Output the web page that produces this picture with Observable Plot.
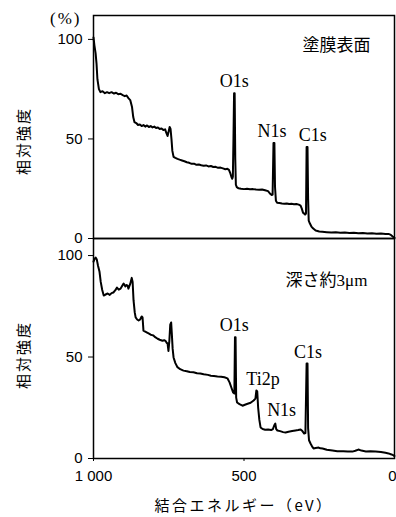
<!DOCTYPE html>
<html>
<head>
<meta charset="utf-8">
<script src="https://cdn.jsdelivr.net/npm/d3@7"></script>
<script src="https://cdn.jsdelivr.net/npm/@observablehq/plot@0.6"></script>
<style>
  body { margin: 0; background: #fff; }
  #chart { position: relative; width: 396px; height: 517px; overflow: hidden; background: #fff; }
  #chart svg { position: absolute; left: 0; overflow: visible; background: transparent; }
  .lbl { position: absolute; white-space: nowrap; color: #000; line-height: 1; }
  .ylab { font-family: "Noto Sans CJK JP", sans-serif; font-size: 15px; letter-spacing: 2px;
          transform: translate(-50%, -50%) rotate(-90deg); }
</style>
</head>
<body>
<div id="chart"></div>
<script>
// Surface spectrum (塗膜表面): [binding energy eV, relative intensity %]
const surfaceSpectrum = [
  [1000,101],[997,97],[993,93],[990,88],[987,80],[982,75],[977,73.5],[970,74],[962,73],[955,73.5],
  [948,73],[940,73.5],[932,72.8],[925,73.2],[918,72.5],[910,72.7],[903,72],[896,71.5],[890,71.8],[884,70.5],
  [878,69.5],[872,66],[868,61],[864,58.5],[858,58],[852,57],[846,57.3],[840,56.5],[834,57],[828,56.2],
  [822,56.8],[816,56],[810,56.5],[804,55.8],[798,56.2],[792,55.5],[786,55.8],[780,55],[774,55.3],[768,54.5],
  [762,54.8],[758,53],[754,51.5],[750,54],[747,56],[744,55],[741,50],[738,44],[734,41],[728,40.5],
  [721,40],[714,39.6],[706,39.2],[698,38.8],[690,38.3],[682,38],[674,37.5],[666,37.6],[658,37],[650,37.2],
  [642,36.8],[634,36.5],[626,36.7],[618,36.2],[610,36.4],[602,35.9],[594,36],[586,35.5],[578,35.6],[570,35.2],
  [562,34.8],[555,35],[550,34.5],[546,33],[542,31],[539,30],[537,31],[535,50],[533,73],[531,73],
  [529,40],[527,27],[524,25.8],[518,25.2],[510,25],[500,24.8],[490,25],[480,24.7],[470,24.8],[460,24.6],
  [450,24.5],[440,24.6],[430,24.2],[420,23.8],[414,22.6],[408,21.8],[405,22],[402,48],[399,48],[397,26],
  [394,19],[390,18],[382,17.8],[374,17.6],[366,17.5],[358,17.6],[350,17.3],[342,17.4],[334,17.2],[326,17.3],
  [318,17],[312,16.5],[308,15],[304,13],[300,12.5],[297,12],[294,12.5],[292,46],[289,46],[287,20],
  [285,9],[281,7.5],[276,6],[270,5],[262,4],[250,3.5],[240,3.4],[225,3.2],[210,3],[195,3.1],
  [180,2.9],[165,3],[150,2.8],[135,2.9],[120,2.6],[105,2.8],[90,2.5],[75,2.6],[60,2.4],[45,2.5],
  [30,2.3],[20,2.3],[12,1.8],[6,1],[2,0.5],[0,0.3]
];

// Depth ~3 μm spectrum (深さ約3μm)
const depthSpectrum = [
  [1000,97],[996,98.5],[993,99],[989,98],[985,95],[980,92],[976,87],[971,83],[966,80.3],[960,80.8],
  [953,81.3],[946,80.6],[940,81.5],[934,81.8],[928,82.8],[922,84.2],[916,83.2],[910,83.7],[905,85],[900,86.2],
  [894,84.8],[890,85.5],[887,85.2],[884,83.7],[878,86],[873,89],[870,87],[867,78],[863,72],[860,69.5],
  [855,68.5],[850,68],[845,68.5],[840,70],[837,69.5],[834,63],[828,62.5],[822,62],[817,61.6],[810,61],
  [805,60.8],[801,60.6],[795,59.8],[787,59],[780,58.5],[771,58],[765,58.3],[761,58],[757,57],[754,56.7],
  [751,53],[748,58],[745,66],[742,67],[740,62],[737,54],[734,49.8],[728,47],[721,45],[712,44],
  [701,43.3],[690,43],[680,42.6],[668,42.5],[656,42],[645,41.9],[634,41.5],[620,41.2],[610,40.8],[600,40.6],
  [588,40.4],[576,40.3],[565,40],[555,39.5],[548,37.5],[542,35],[536,32.5],[532,32],[530,59.8],[528,59.8],
  [526,30],[523,27.6],[515,26.8],[505,26],[497,26.5],[488,27],[478,27.5],[468,28.6],[462,29.5],[459,33.5],
  [456,33],[453,25],[449,19],[445,15.3],[438,14.5],[430,14.2],[420,14.3],[410,14],[404,14.5],[399,16.5],
  [396,17.2],[393,14.5],[389,13.8],[380,13.5],[370,13],[362,12.8],[352,13.2],[340,13.5],[329,13.8],[320,14],
  [312,14.3],[306,13.5],[300,12.3],[296,12.5],[292,46.8],[289,46.8],[287,15],[284,9],[279,7.4],[274,6],
  [269,4.9],[262,5.2],[252,5.4],[246,5],[239,4.9],[225,4.3],[206,3.9],[190,3.6],[170,3.6],[155,3.4],
  [140,3.4],[130,3.8],[120,4.4],[110,3.9],[95,3.5],[80,3.6],[63,3.4],[45,3.2],[30,2.8],[20,2.5],
  [10,2],[3,1.5],[0,1.2]
];

// Peak labels: [text, energy eV, intensity %]
const surfacePeaks = [["O1s", 532, 79], ["N1s", 407, 54], ["C1s", 272, 52]];
const depthPeaks = [["O1s", 532, 65.5], ["Ti2p", 437, 39], ["N1s", 375, 23.6], ["C1s", 287, 52.2]];
const panelTitles = [["塗膜表面", 193, 97], ["深さ約3μm", 226, 87.7]];

const yTicks = [0, 50, 100];
const xTicks = [1000, 500, 0];
const yAxisTitle = "相対強度";
const xAxisTitle = "結合エネルギー（eV）";
const unitLabel = "(%)";

const chart = document.getElementById("chart");
const serif = "'Liberation Serif', 'Noto Sans CJK JP', serif";

const common = {
  width: 396,
  marginLeft: 93,
  marginRight: 2,
  style: { fontFamily: "'Liberation Sans', sans-serif", fontSize: "15px", color: "#000", background: "transparent" }
};

const topPlot = Plot.plot({
  ...common,
  height: 240,
  marginTop: 15,
  marginBottom: 2,
  x: { domain: [1000, 0], axis: null },
  y: { domain: [0, 112] },
  marks: [
    Plot.axisY({ ticks: yTicks, tickSize: 5, tickPadding: 6, label: null, fontSize: 15 }),
    Plot.frame({ stroke: "#000", strokeWidth: 1.5 }),
    Plot.line(surfaceSpectrum, { x: d => d[0], y: d => d[1], stroke: "#000", strokeWidth: 2 }),
    Plot.text(surfacePeaks, { x: d => d[1], y: d => d[2], text: d => d[0], fontFamily: serif, fontSize: 18 }),
    Plot.text(panelTitles.slice(0, 1), { x: d => d[1], y: d => d[2], text: d => d[0], fontFamily: serif, fontSize: 17 })
  ]
});
topPlot.style.top = "0px";
chart.appendChild(topPlot);

const bottomPlot = Plot.plot({
  ...common,
  height: 287,
  marginTop: 8,
  marginBottom: 59,
  x: { domain: [1000, 0] },
  y: { domain: [0, 108.4] },
  marks: [
    Plot.axisY({ ticks: yTicks, tickSize: 5, tickPadding: 6, label: null, fontSize: 15 }),
    Plot.axisX({ ticks: xTicks.slice(0, 2), tickSize: 3, tickPadding: 9, label: null, fontSize: 15,
                 tickFormat: d => d === 1000 ? "1 000" : String(d) }),
    Plot.axisX({ ticks: xTicks.slice(2), tickSize: 3, tickPadding: 9, label: null, fontSize: 15,
                 textAnchor: "end", dx: 2, tickFormat: d => String(d) }),
    Plot.frame({ stroke: "#000", strokeWidth: 1.5 }),
    Plot.line(depthSpectrum, { x: d => d[0], y: d => d[1], stroke: "#000", strokeWidth: 2 }),
    Plot.text(depthPeaks, { x: d => d[1], y: d => d[2], text: d => d[0], fontFamily: serif, fontSize: 18 }),
    Plot.text(panelTitles.slice(1), { x: d => d[1], y: d => d[2], text: d => d[0], fontFamily: serif, fontSize: 17 })
  ]
});
bottomPlot.style.top = "230px";
chart.appendChild(bottomPlot);

function addLabel(text, cls, css) {
  const el = document.createElement("div");
  el.className = "lbl " + cls;
  el.textContent = text;
  Object.assign(el.style, css);
  chart.appendChild(el);
}
addLabel(unitLabel, "", { left: "50px", top: "10px", fontFamily: serif, fontSize: "17px", letterSpacing: "2px" });
addLabel(yAxisTitle, "ylab", { left: "22px", top: "141px" });
addLabel(yAxisTitle, "ylab", { left: "22px", top: "355px" });
addLabel(xAxisTitle, "", { left: "244px", top: "504px", transform: "translate(-50%, -50%)",
  fontFamily: "'Noto Sans CJK JP', sans-serif", fontSize: "15px", letterSpacing: "2.5px" });
</script>
</body>
</html>
